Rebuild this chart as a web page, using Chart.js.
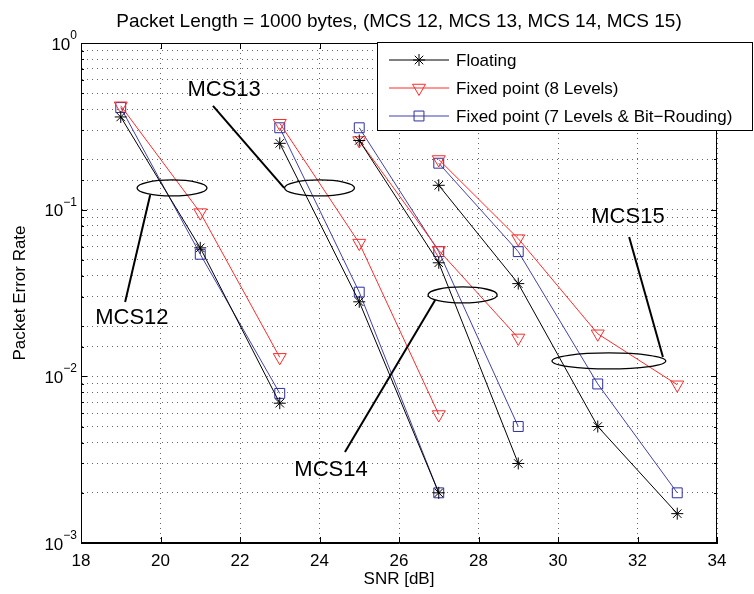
<!DOCTYPE html>
<html>
<head>
<meta charset="utf-8">
<script src="https://cdn.jsdelivr.net/npm/chart.js@4/dist/chart.umd.min.js"></script>
<style>
  html, body { margin: 0; padding: 0; background: #fff; }
  #wrap { width: 754px; height: 594px; }
</style>
</head>
<body>
<div id="wrap"><canvas id="myChart" width="754" height="594"></canvas></div>
<script>
// SNR points for each MCS
var snr12 = [19, 21, 23];
var snr13 = [23, 25, 27];
var snr14 = [25, 27, 29];
var snr15 = [27, 29, 31, 33];

// packet error rate
var floating12 = [0.36, 0.059, 0.0069];
var floating13 = [0.25, 0.028, 0.002];
var floating14 = [0.26, 0.048, 0.003];
var floating15 = [0.14, 0.036, 0.005, 0.0015];

var fixed8_12 = [0.42, 0.096, 0.013];
var fixed8_13 = [0.33, 0.063, 0.0059];
var fixed8_14 = [0.26, 0.057, 0.017];
var fixed8_15 = [0.2, 0.067, 0.018, 0.0089];

var fixed7_12 = [0.41, 0.054, 0.0079];
var fixed7_13 = [0.31, 0.032, 0.002];
var fixed7_14 = [0.31, 0.056, 0.005];
var fixed7_15 = [0.19, 0.056, 0.009, 0.002];

var xTicks = [18, 20, 22, 24, 26, 28, 30, 32, 34];
var yDecades = [1, 0.1, 0.01, 0.001];
var yExponents = ['0', '\u22121', '\u22122', '\u22123'];
var seriesLabels = ['Floating', 'Fixed point (8 Levels)', 'Fixed point (7 Levels & Bit\u2212Rouding)'];

// join the MCS curves into one dataset, with a null point between them
function joinCurves(xs, ys) {
    var pts = [];
    for (var i = 0; i < xs.length; i++) {
        if (i > 0) pts.push({x: xs[i][0], y: null});
        for (var j = 0; j < xs[i].length; j++) pts.push({x: xs[i][j], y: ys[i][j]});
    }
    return pts;
}
var snrAll = [snr12, snr13, snr14, snr15];

// ellipse + leader + label annotations (data coords)
var notes = [
    {text: 'MCS12', ex: 20.29, ey: 0.135, rx: 0.88, from: [19.74, 0.1225], to: [19.11, 0.0279], lx: 19.28, ly: 0.0224},
    {text: 'MCS13', ex: 24.0, ey: 0.135, rx: 0.88, from: [23.11, 0.135], to: [21.32, 0.419], lx: 21.6, ly: 0.522},
    {text: 'MCS14', ex: 27.6, ey: 0.0308, rx: 0.87, from: [26.91, 0.0287], to: [24.64, 0.00352], lx: 24.29, ly: 0.00275},
    {text: 'MCS15', ex: 31.28, ey: 0.01237, rx: 1.43, from: [32.64, 0.01306], to: [31.79, 0.0686], lx: 31.76, ly: 0.0904}
];

var FONT = '"Liberation Sans", Arial, Helvetica, sans-serif';

function drawMarker(ctx, style, x, y, r) {
    ctx.beginPath();
    if (style === 'star') {
        ctx.moveTo(x - r, y); ctx.lineTo(x + r, y);
        ctx.moveTo(x, y - r); ctx.lineTo(x, y + r);
        var d = r * 0.7071;
        ctx.moveTo(x - d, y - d); ctx.lineTo(x + d, y + d);
        ctx.moveTo(x - d, y + d); ctx.lineTo(x + d, y - d);
    } else if (style === 'triangle') {
        ctx.moveTo(x, y + r);
        ctx.lineTo(x - r * 0.866, y - r / 2);
        ctx.lineTo(x + r * 0.866, y - r / 2);
        ctx.closePath();
    } else {
        var s = r * 0.7071;
        ctx.rect(x - s, y - s, 2 * s, 2 * s);
    }
    ctx.stroke();
}

var extras = {
    id: 'extras',
    afterDatasetsDraw: function(chart) {
        var ctx = chart.ctx, xs = chart.scales.x, ys = chart.scales.y, a = chart.chartArea;
        ctx.save();
        // box and inner tick marks
        ctx.strokeStyle = '#000';
        ctx.lineWidth = 1;
        ctx.strokeRect(a.left + 0.5, a.top + 0.5, a.right - a.left - 1, a.bottom - a.top - 1);
        ctx.beginPath();
        xTicks.forEach(function(t) {
            var px = Math.round(xs.getPixelForValue(t)) + 0.5;
            ctx.moveTo(px, a.bottom); ctx.lineTo(px, a.bottom - 6);
            ctx.moveTo(px, a.top); ctx.lineTo(px, a.top + 6);
        });
        ys.ticks.forEach(function(t) {
            var py = Math.round(ys.getPixelForValue(t.value)) + 0.5;
            var len = t.major ? 6 : 3;
            ctx.moveTo(a.left, py); ctx.lineTo(a.left + len, py);
            ctx.moveTo(a.right, py); ctx.lineTo(a.right - len, py);
        });
        ctx.stroke();

        // annotations
        notes.forEach(function(n) {
            var cx = xs.getPixelForValue(n.ex), cy = ys.getPixelForValue(n.ey);
            var rx = xs.getPixelForValue(n.ex + n.rx) - cx;
            ctx.lineWidth = 1.3;
            ctx.beginPath();
            ctx.ellipse(cx, cy, rx, 8, 0, 0, Math.PI * 2);
            ctx.stroke();
            ctx.lineWidth = 2;
            ctx.beginPath();
            ctx.moveTo(xs.getPixelForValue(n.from[0]), ys.getPixelForValue(n.from[1]));
            ctx.lineTo(xs.getPixelForValue(n.to[0]), ys.getPixelForValue(n.to[1]));
            ctx.stroke();
            ctx.fillStyle = '#000';
            ctx.font = '22px ' + FONT;
            ctx.textAlign = 'center';
            ctx.textBaseline = 'middle';
            ctx.fillText(n.text, xs.getPixelForValue(n.lx), ys.getPixelForValue(n.ly));
        });
        ctx.restore();
    },
    afterDraw: function(chart) {
        var ctx = chart.ctx, ys = chart.scales.y;
        ctx.save();
        // y tick labels 10^n
        ctx.fillStyle = '#000';
        yDecades.forEach(function(v, i) {
            var py = ys.getPixelForValue(v);
            ctx.font = '12px ' + FONT;
            var we = ctx.measureText(yExponents[i]).width;
            ctx.textAlign = 'left';
            ctx.textBaseline = 'alphabetic';
            ctx.fillText(yExponents[i], 77 - we, py - 4);
            ctx.font = '17px ' + FONT;
            ctx.textAlign = 'right';
            ctx.textBaseline = 'middle';
            ctx.fillText('10', 77 - we, py + 2);
        });

        // legend box
        var lx = 377, ly = 42, lw = 376, lh = 89;
        ctx.fillStyle = '#fff';
        ctx.fillRect(lx, ly, lw, lh);
        ctx.strokeStyle = '#000';
        ctx.lineWidth = 1;
        ctx.strokeRect(lx + 0.5, ly + 0.5, lw - 1, lh - 1);
        chart.data.datasets.forEach(function(ds, i) {
            var y = 60 + i * 28;
            ctx.strokeStyle = ds.borderColor;
            ctx.lineWidth = 1;
            ctx.beginPath();
            ctx.moveTo(389, y); ctx.lineTo(449, y);
            ctx.stroke();
            ctx.strokeStyle = ds.pointBorderColor;
            drawMarker(ctx, ds.pointStyle, 419, y, ds.pointRadius);
            ctx.fillStyle = '#000';
            ctx.font = '17px ' + FONT;
            ctx.textAlign = 'left';
            ctx.textBaseline = 'middle';
            ctx.fillText(ds.label, 456, y + 1);
        });
        ctx.restore();
    }
};

var ctx = document.getElementById('myChart').getContext('2d');
var chart = new Chart(ctx, {
    type: 'line',
    data: {
        datasets: [{
            label: seriesLabels[0],
            data: joinCurves(snrAll, [floating12, floating13, floating14, floating15]),
            borderColor: '#000',
            pointBorderColor: '#000',
            pointBackgroundColor: 'rgba(0,0,0,0)',
            pointStyle: 'star',
            pointRadius: 6,
            pointBorderWidth: 1
        }, {
            label: seriesLabels[1],
            data: joinCurves(snrAll, [fixed8_12, fixed8_13, fixed8_14, fixed8_15]),
            borderColor: '#ff2a2a',
            pointBorderColor: '#ff2a2a',
            pointBackgroundColor: 'rgba(0,0,0,0)',
            pointStyle: 'triangle',
            pointRotation: 180,
            pointRadius: 7.5,
            pointBorderWidth: 1
        }, {
            label: seriesLabels[2],
            data: joinCurves(snrAll, [fixed7_12, fixed7_13, fixed7_14, fixed7_15]),
            borderColor: '#4040b0',
            pointBorderColor: '#2e2ea0',
            pointBackgroundColor: 'rgba(0,0,0,0)',
            pointStyle: 'rect',
            pointRadius: 7,
            pointBorderWidth: 1
        }]
    },
    options: {
        responsive: false,
        animation: false,
        spanGaps: false,
        elements: { line: { borderWidth: 1, tension: 0 } },
        layout: { padding: { left: 0, right: 37, top: 0, bottom: 0 } },
        plugins: {
            legend: { display: false },
            tooltip: { enabled: false },
            title: {
                display: true,
                fullSize: false,
                text: 'Packet Length = 1000 bytes, (MCS 12, MCS 13, MCS 14, MCS 15)',
                color: '#000',
                font: { family: FONT, size: 19, weight: 'normal' },
                padding: { top: 10, bottom: 10.2 }
            }
        },
        scales: {
            x: {
                type: 'linear',
                min: 18, max: 34,
                afterFit: function(s) { s.height = 51; },
                afterBuildTicks: function(s) { s.ticks = xTicks.map(function(v) { return {value: v}; }); },
                ticks: { color: '#000', font: { family: FONT, size: 17 }, padding: 8, maxRotation: 0 },
                grid: { color: '#666', borderDash: [1, 4], drawTicks: false, lineWidth: 1 },
                border: { display: true, color: '#000', dash: [1, 4] },
                title: { display: true, text: 'SNR [dB]', color: '#000', font: { family: FONT, size: 17 }, padding: { top: 0, bottom: 4 } }
            },
            y: {
                type: 'logarithmic',
                min: 0.001, max: 1,
                afterFit: function(s) { s.width = 81; },
                ticks: { display: false },
                grid: { color: '#666', borderDash: [1, 4], drawTicks: false, lineWidth: 1 },
                border: { display: true, color: '#000', dash: [1, 4] },
                title: { display: true, text: 'Packet Error Rate', color: '#000', font: { family: FONT, size: 17 }, padding: { top: 10, bottom: 0 } }
            }
        }
    },
    plugins: [extras]
});
</script>
</body>
</html>
